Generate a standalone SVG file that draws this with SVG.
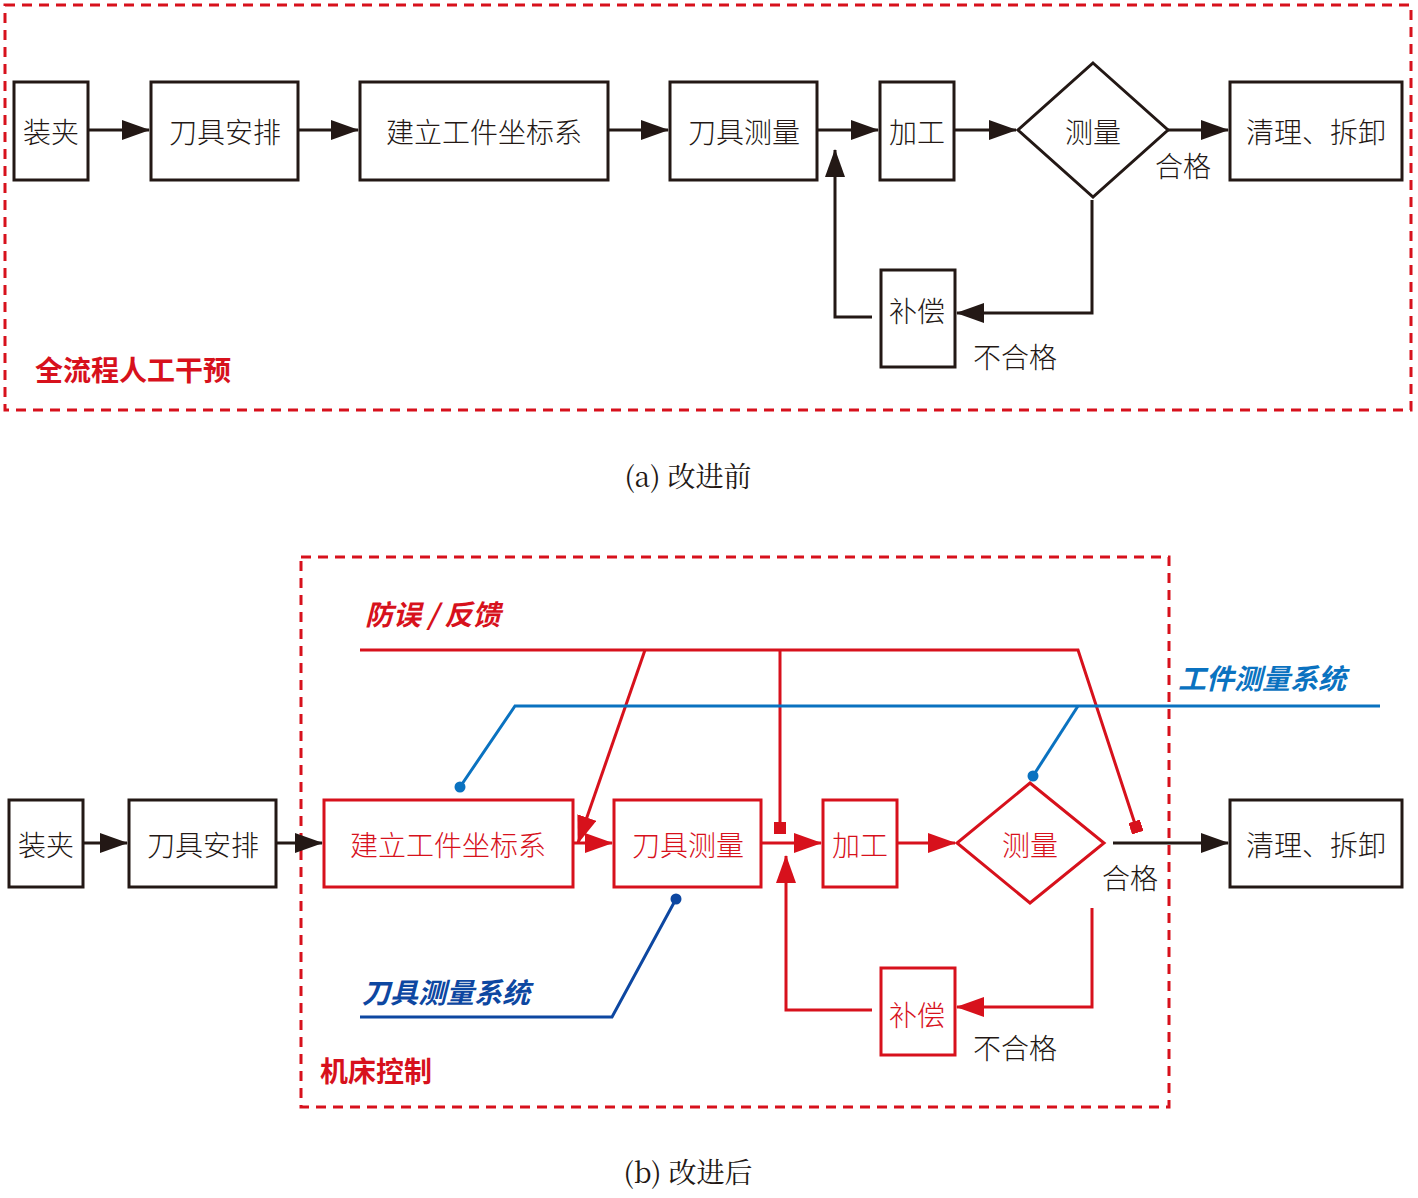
<svg xmlns="http://www.w3.org/2000/svg" width="1418" height="1198" viewBox="0 0 1418 1198">
<style>
.t{font-family:"Noto Sans CJK SC","Noto Sans CJK JP",sans-serif;font-size:28px;text-anchor:middle;dominant-baseline:central;font-weight:300}
.k{fill:#231815}.r{fill:#d7111c}
.bk{fill:#fff;stroke:#231815;stroke-width:3}
.br{fill:#fff;stroke:#d7111c;stroke-width:3}
.lk{fill:none;stroke:#231815;stroke-width:3}
.lr{fill:none;stroke:#d7111c;stroke-width:3}
.lb{fill:none;stroke:#0a72c0;stroke-width:3}
.ld{fill:none;stroke:#0d47a1;stroke-width:3}
.dash{fill:none;stroke:#d7111c;stroke-width:3;stroke-dasharray:10 7}
.lab{font-family:"Noto Sans CJK SC",sans-serif;font-size:28px;font-weight:bold;font-style:italic}
.cap{font-family:"Noto Serif CJK SC","Noto Sans CJK SC",serif;font-size:28px;fill:#231815;text-anchor:middle;dominant-baseline:central}
</style>
<defs>
<marker id="ak" markerWidth="10" markerHeight="8" refX="9" refY="4" orient="auto" markerUnits="userSpaceOnUse" viewBox="0 0 10 8"><path d="M0,0L10,4L0,8z" fill="#231815"/></marker>
<marker id="ar" markerWidth="10" markerHeight="8" refX="9" refY="4" orient="auto" viewBox="0 0 10 8"><path d="M0,0L10,4L0,8z" fill="#d7111c"/></marker>
</defs>
<defs>
<marker id="AK" markerWidth="28" markerHeight="20" refX="27" refY="10" orient="auto" markerUnits="userSpaceOnUse"><path d="M0,0L28,10L0,20z" fill="#231815"/></marker>
<marker id="AR" markerWidth="28" markerHeight="20" refX="27" refY="10" orient="auto" markerUnits="userSpaceOnUse"><path d="M0,0L28,10L0,20z" fill="#d7111c"/></marker>
<marker id="SQ" markerWidth="12" markerHeight="12" refX="6" refY="6" orient="auto" markerUnits="userSpaceOnUse"><rect width="12" height="12" fill="#d7111c"/></marker>
<marker id="DB" markerWidth="12" markerHeight="12" refX="6" refY="6" markerUnits="userSpaceOnUse"><circle cx="6" cy="6" r="5.5" fill="#0a72c0"/></marker>
<marker id="DD" markerWidth="12" markerHeight="12" refX="6" refY="6" markerUnits="userSpaceOnUse"><circle cx="6" cy="6" r="5.5" fill="#0d47a1"/></marker>
</defs>
<rect width="1418" height="1198" fill="#fff"/>
<!-- (a) -->
<rect class="dash" x="5" y="5" width="1406" height="405"/>
<g id="connectors-a">
<line class="lk" x1="88" y1="130" x2="149" y2="130" marker-end="url(#AK)"/>
<line class="lk" x1="298" y1="130" x2="358" y2="130" marker-end="url(#AK)"/>
<line class="lk" x1="608" y1="130" x2="668" y2="130" marker-end="url(#AK)"/>
<line class="lk" x1="817" y1="130" x2="878" y2="130" marker-end="url(#AK)"/>
<line class="lk" x1="954" y1="130" x2="1016" y2="130" marker-end="url(#AK)"/>
<line class="lk" x1="1168" y1="130" x2="1228" y2="130" marker-end="url(#AK)"/>
<polyline class="lk" points="1092,200 1092,313 957,313" marker-end="url(#AK)"/>
<polyline class="lk" points="872,317 835,317 835,150" marker-end="url(#AK)"/>
</g>
<g id="a-zj"><rect class="bk" x="14" y="82" width="74" height="98"/><text class="t k" x="51" y="131">装夹</text></g>
<g id="a-djap"><rect class="bk" x="151" y="82" width="147" height="98"/><text class="t k" x="225" y="131">刀具安排</text></g>
<g id="a-jl"><rect class="bk" x="360" y="82" width="248" height="98"/><text class="t k" x="484" y="131">建立工件坐标系</text></g>
<g id="a-djcl"><rect class="bk" x="670" y="82" width="147" height="98"/><text class="t k" x="744" y="131">刀具测量</text></g>
<g id="a-jg"><rect class="bk" x="880" y="82" width="74" height="98"/><text class="t k" x="917" y="131">加工</text></g>
<g id="a-cl"><polygon class="bk" points="1093,63 1168,130 1093,197 1018,130"/><text class="t k" x="1093" y="131">测量</text></g>
<g id="a-qlcx"><rect class="bk" x="1230" y="82" width="172" height="98"/><text class="t k" x="1316" y="131">清理、拆卸</text></g>
<g id="a-bc"><rect class="bk" x="881" y="270" width="74" height="97"/><text class="t k" x="917" y="310">补偿</text></g>
<text class="t k" x="1183" y="165">合格</text>
<text class="t k" x="1015" y="356">不合格</text>
<text x="35" y="381" font-family="Noto Sans CJK SC,sans-serif" font-size="28" font-weight="bold" fill="#d7111c">全流程人工干预</text>
<text class="cap" x="688" y="475">(a) 改进前</text>
<!-- (b) -->
<rect class="dash" x="301" y="557" width="868" height="550"/>
<g id="connectors-b">
<line class="lk" x1="83" y1="843" x2="127" y2="843" marker-end="url(#AK)"/>
<line class="lk" x1="276" y1="843" x2="322" y2="843" marker-end="url(#AK)"/>
<line class="lr" x1="573" y1="843" x2="612" y2="843" marker-end="url(#AR)"/>
<line class="lr" x1="761" y1="843" x2="821" y2="843" marker-end="url(#AR)"/>
<line class="lr" x1="897" y1="843" x2="955" y2="843" marker-end="url(#AR)"/>
<line class="lk" x1="1113" y1="843" x2="1228" y2="843" marker-end="url(#AK)"/>
<polyline class="lr" points="1092,908 1092,1007 957,1007" marker-end="url(#AR)"/>
<polyline class="lr" points="872,1010 786,1010 786,856" marker-end="url(#AR)"/>
<polyline class="lr" points="360,650 1078,650 1136,827" marker-end="url(#SQ)"/>
<line class="lr" x1="645" y1="650" x2="578" y2="843" marker-end="url(#AR)"/>
<line class="lr" x1="780" y1="650" x2="780" y2="828" marker-end="url(#SQ)"/>
<polyline class="lb" points="1380,706 515,706 460,787" marker-end="url(#DB)"/>
<line class="lb" x1="1078" y1="706" x2="1033" y2="776" marker-end="url(#DB)"/>
<polyline class="ld" points="360,1017 612,1017 676,899" marker-end="url(#DD)"/>
</g>
<g id="b-zj"><rect class="bk" x="9" y="800" width="74" height="87"/><text class="t k" x="46" y="844">装夹</text></g>
<g id="b-djap"><rect class="bk" x="129" y="800" width="147" height="87"/><text class="t k" x="203" y="844">刀具安排</text></g>
<g id="b-jl"><rect class="br" x="324" y="800" width="249" height="87"/><text class="t r" x="448" y="844">建立工件坐标系</text></g>
<g id="b-djcl"><rect class="br" x="614" y="800" width="147" height="87"/><text class="t r" x="688" y="844">刀具测量</text></g>
<g id="b-jg"><rect class="br" x="823" y="800" width="74" height="87"/><text class="t r" x="860" y="844">加工</text></g>
<g id="b-cl"><polygon class="br" points="1030,783 1104,843 1030,903 957,843"/><text class="t r" x="1030" y="844">测量</text></g>
<g id="b-qlcx"><rect class="bk" x="1230" y="800" width="172" height="87"/><text class="t k" x="1316" y="844">清理、拆卸</text></g>
<g id="b-bc"><rect class="br" x="881" y="968" width="74" height="87"/><text class="t r" x="917" y="1014">补偿</text></g>
<text class="t k" x="1130" y="877">合格</text>
<text class="t k" x="1015" y="1047">不合格</text>
<text class="lab" x="365" y="625" fill="#d7111c">防误 / 反馈</text>
<text class="lab" x="1178" y="689" fill="#0a72c0">工件测量系统</text>
<text class="lab" x="362" y="1003" fill="#0d47a1">刀具测量系统</text>
<text x="320" y="1082" font-family="Noto Sans CJK SC,sans-serif" font-size="28" font-weight="bold" fill="#d7111c">机床控制</text>
<text class="cap" x="688" y="1171">(b) 改进后</text>
</svg>
